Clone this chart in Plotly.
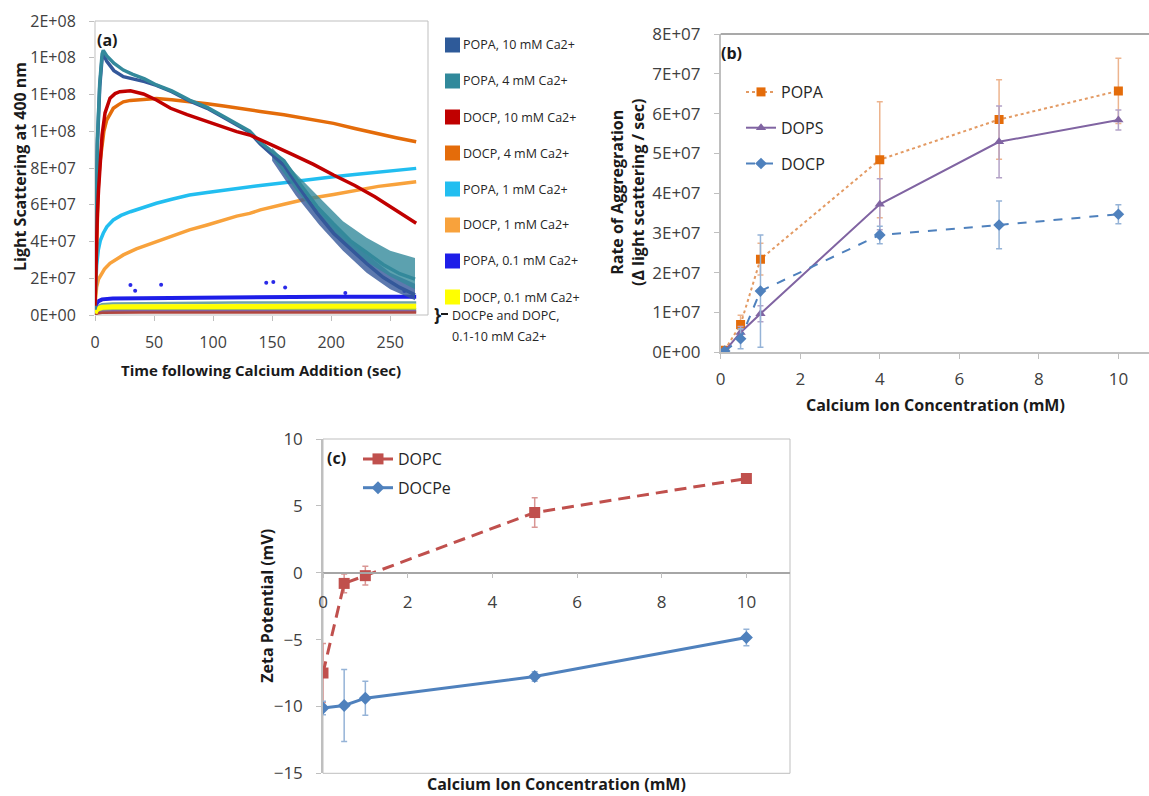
import plotly.graph_objects as go

W, H = 1149, 796
FONT = "Open Sans, Lato, sans-serif"

# ---------------- Panel (a): light scattering vs time (values in units of 1e7) ----------------
t_popa = [0, 1, 2, 4, 6, 7, 10, 16, 24, 32, 42, 52, 65, 80, 95, 109, 120, 131, 140, 150,
          160, 174, 188, 202, 216, 230, 244, 258, 271]
popa_4mM = [0.3, 6.3, 9.5, 12.6, 14.2, 14.4, 14.1, 13.7, 13.33, 13.1, 12.85, 12.52, 12.2, 11.7,
            11.3, 10.8, 10.4, 10.0, 9.4, 8.9, 8.4, 7.1, 5.9, 4.95, 4.05, 3.4, 2.75, 2.25, 1.95]
popa_10mM = [0.3, 6.0, 9.2, 12.4, 14.0, 14.2, 13.8, 13.3, 12.97, 12.85, 12.7, 12.5, 12.15, 11.65,
             11.25, 10.75, 10.35, 9.95, 9.3, 8.7, 8.15, 6.85, 5.55, 4.45, 3.6, 2.8, 2.05, 1.5, 1.1]

tail_t = [150, 170, 190, 210, 230, 250, 271]
popa_4mM_hi = [9.1, 7.7, 6.4, 5.1, 4.2, 3.5, 3.1]
popa_4mM_lo = [8.6, 6.8, 5.3, 3.9, 2.9, 2.1, 1.4]
popa_10mM_hi = [8.9, 7.1, 5.7, 4.4, 3.3, 2.3, 1.7]
popa_10mM_lo = [8.4, 6.5, 4.9, 3.5, 2.3, 1.4, 0.8]

t_docp10 = [0, 1, 2, 3, 4.2, 6, 8.5, 12.7, 17, 21, 30, 41, 52, 64, 78, 92, 106, 120, 131, 140,
            150, 167, 185, 202, 220, 237, 255, 272]
docp_10mM = [0.5, 3.5, 5.5, 6.8, 7.9, 9.8, 11.0, 11.8, 12.05, 12.15, 12.2, 12.03, 11.7, 11.25,
             10.9, 10.6, 10.3, 9.98, 9.8, 9.52, 9.25, 8.74, 8.2, 7.62, 7.05, 6.44, 5.7, 4.99]

t_docp4 = [0, 1, 2.8, 4, 5.6, 7.5, 9.9, 12.5, 15.5, 20, 24, 30, 38, 52, 65, 80, 95, 109, 120, 131,
           140, 160, 180, 202, 220, 240, 255, 272]
docp_4mM = [0.5, 3.0, 7.0, 8.2, 9.16, 10.0, 10.61, 10.95, 11.25, 11.45, 11.6, 11.68, 11.72, 11.78,
            11.72, 11.62, 11.5, 11.37, 11.25, 11.16, 11.08, 10.9, 10.68, 10.43, 10.15, 9.85, 9.65, 9.43]

t_popa1 = [0, 0.5, 1.4, 2.8, 4.5, 7, 10, 15.5, 22, 30, 40, 52, 65, 80, 95, 109, 120, 131, 140, 160,
           180, 202, 220, 240, 255, 272]
popa_1mM = [0.8, 1.6, 2.7, 3.54, 4.05, 4.45, 4.8, 5.17, 5.42, 5.62, 5.85, 6.08, 6.3, 6.53, 6.67,
            6.8, 6.9, 6.98, 7.05, 7.2, 7.37, 7.53, 7.65, 7.78, 7.88, 7.98]

t_docp1 = [0, 0.5, 1.4, 3, 5.6, 8, 12.7, 18, 24, 35, 52, 65, 80, 95, 109, 120, 131, 140, 160, 180,
           202, 220, 240, 255, 272]
docp_1mM = [0.5, 1.0, 1.54, 1.95, 2.27, 2.5, 2.81, 3.05, 3.27, 3.6, 3.99, 4.3, 4.63, 4.9, 5.17,
            5.38, 5.53, 5.72, 6.03, 6.33, 6.56, 6.78, 7.0, 7.12, 7.25]

t_low = [0, 1, 3, 6, 15, 40, 80, 120, 160, 200, 240, 272]
popa_01mM = [0.4, 0.6, 0.75, 0.85, 0.9, 0.92, 0.95, 0.97, 0.98, 1.0, 1.0, 1.0]
docp_01mM = [0.1, 0.25, 0.35, 0.42, 0.45, 0.46, 0.47, 0.47, 0.47, 0.47, 0.47, 0.47]
docpe_dopc_1 = [0.2, 0.4, 0.5, 0.58, 0.63, 0.65, 0.67, 0.68, 0.68, 0.68, 0.68, 0.68]
docpe_dopc_2 = [0.05, 0.15, 0.22, 0.27, 0.3, 0.31, 0.31, 0.31, 0.31, 0.31, 0.31, 0.31]
docpe_dopc_3 = [0.05, 0.1, 0.15, 0.18, 0.2, 0.21, 0.21, 0.21, 0.21, 0.21, 0.21, 0.21]
docpe_dopc_4 = [0.02, 0.06, 0.1, 0.12, 0.13, 0.14, 0.14, 0.14, 0.14, 0.14, 0.14, 0.14]

popa_01mM_out_t = [30, 34, 56, 145, 151, 161, 212, 262]
popa_01mM_out_v = [1.63, 1.32, 1.65, 1.76, 1.8, 1.49, 1.2, 1.3]

a_xticks = [0, 50, 100, 150, 200, 250]
a_yticks = [0, 2e7, 4e7, 6e7, 8e7, 1.0e8, 1.2e8, 1.4e8, 1.6e8]
a_yticktext = ["0E+00", "2E+07", "4E+07", "6E+07", "8E+07", "1E+08", "1E+08", "1E+08", "2E+08"]

a_legend_labels = ["POPA, 10 mM Ca2+", "POPA, 4 mM Ca2+", "DOCP, 10 mM Ca2+", "DOCP, 4 mM Ca2+",
                   "POPA, 1 mM Ca2+", "DOCP, 1 mM Ca2+", "POPA, 0.1 mM Ca2+", "DOCP, 0.1 mM Ca2+"]
a_legend_colors = ["#2E5A99", "#31899B", "#C00000", "#E46C0A", "#22BEF0", "#F8A23C", "#1E1EE8", "#FFFF00"]

# ---------------- Panel (b): rate of aggregation ----------------
conc_b = [0.1, 0.5, 1, 4, 7, 10]
popa_rate = [0.05, 0.70, 2.34, 4.84, 5.85, 6.57]   # x1e7
popa_err = [0.05, 0.23, 0.40, 1.46, 1.00, 0.82]
dops_rate = [0.03, 0.50, 0.97, 3.72, 5.29, 5.84]
dops_err = [0.03, 0.15, 0.20, 0.64, 0.90, 0.25]
docp_rate = [0.03, 0.34, 1.54, 2.95, 3.20, 3.47]
docp_err = [0.03, 0.25, 1.41, 0.22, 0.60, 0.24]
b_xticks = [0, 2, 4, 6, 8, 10]
b_yticks = [0, 1e7, 2e7, 3e7, 4e7, 5e7, 6e7, 7e7, 8e7]
b_yticktext = ["0E+00", "1E+07", "2E+07", "3E+07", "4E+07", "5E+07", "6E+07", "7E+07", "8E+07"]

# ---------------- Panel (c): zeta potential ----------------
conc_c = [0, 0.5, 1, 5, 10]
dopc_zeta = [-7.5, -0.8, -0.22, 4.5, 7.04]
dopc_err = [2.2, 0.7, 0.7, 1.1, 0.2]
docpe_zeta = [-10.12, -9.93, -9.38, -7.76, -4.85]
docpe_err = [0.5, 2.7, 1.27, 0.35, 0.62]
c_xticks = [0, 2, 4, 6, 8, 10]
c_yticks = [-15, -10, -5, 0, 5, 10]


def px(x):
    return x / W


def py(y):
    return 1 - y / H


def e7(v):
    return [x * 1e7 for x in v]


A_X, A_Y = [px(95), px(428)], [py(315), py(21)]
B_X, B_Y = [px(720.7), 1.0], [py(352.3), py(34)]
C_X, C_Y = [px(323), px(790)], [py(773.3), py(439)]
A_XR, A_YR = [0, 282], [0, 1.6e8]
B_XR, B_YR = [0, 10.77], [0, 8e7]
C_XR, C_YR = [0, 11.03], [-15, 10]

fig = go.Figure()

# ---- panel (a) traces ----
def a_line(t, v, color, width=3.5):
    fig.add_trace(go.Scatter(x=t, y=e7(v), mode="lines", line=dict(color=color, width=width),
                             xaxis="x", yaxis="y", showlegend=False, hoverinfo="skip"))


for v, c in zip([docpe_dopc_1, docpe_dopc_2, docpe_dopc_3, docpe_dopc_4],
                ["#6FA3A6", "#9BBB59", "#8064A2", "#B0463F"]):
    a_line(t_low, v, c, 2.5)
a_line(t_low, docp_01mM, "#FFFF00", 5)
a_line(t_low, popa_01mM, "#1E1EE8", 4)
fig.add_trace(go.Scatter(x=popa_01mM_out_t, y=e7(popa_01mM_out_v), mode="markers",
                         marker=dict(color="#2A2AE8", size=4), xaxis="x", yaxis="y",
                         showlegend=False, hoverinfo="skip"))
a_line(t_docp1, docp_1mM, "#F8A23C")
a_line(t_popa1, popa_1mM, "#22BEF0")
a_line(t_docp4, docp_4mM, "#E46C0A")
for hi, lo, c in [(popa_10mM_hi, popa_10mM_lo, "#34589A"), (popa_4mM_hi, popa_4mM_lo, "#33899B")]:
    fig.add_trace(go.Scatter(x=tail_t + tail_t[::-1], y=e7(hi + lo[::-1]), mode="lines",
                             fill="toself", fillcolor=c, line=dict(width=0, color=c), opacity=0.8,
                             xaxis="x", yaxis="y", showlegend=False, hoverinfo="skip"))
a_line(t_popa, popa_10mM, "#34589A")
a_line(t_popa, popa_4mM, "#33899B")
a_line(t_docp10, docp_10mM, "#C00000")

# ---- panel (b) traces ----
def b_trace(y, err, name, lcolor, mcolor, ecolor, symbol, dash, grp):
    fig.add_trace(go.Scatter(
        x=conc_b, y=e7(y), name=name, mode="lines+markers",
        line=dict(color=lcolor, width=2, dash=dash),
        marker=dict(symbol=symbol, size=9, color=mcolor),
        error_y=dict(type="data", array=e7(err), color=ecolor, thickness=1.5, width=3),
        xaxis="x2", yaxis="y2", legend="legend2", legendgroup=grp))


b_trace(popa_rate, popa_err, "POPA", "#E39A63", "#E46C0A", "#EDB48E", "square", "dot", "b1")
b_trace(dops_rate, dops_err, "DOPS", "#8064A2", "#8064A2", "#B3A2C7", "triangle-up", "solid", "b2")
b_trace(docp_rate, docp_err, "DOCP", "#4F81BD", "#4F81BD", "#95B3D7", "diamond", "dash", "b3")

# ---- panel (c) traces ----
fig.add_trace(go.Scatter(
    x=conc_c, y=dopc_zeta, name="DOPC", mode="lines+markers",
    line=dict(color="#C0504D", width=3, dash="12px,7px"),
    marker=dict(symbol="square", size=11, color="#C0504D"),
    error_y=dict(type="data", array=dopc_err, color="#D99694", thickness=1.5, width=3),
    xaxis="x3", yaxis="y3", legend="legend3", legendgroup="c1"))
fig.add_trace(go.Scatter(
    x=conc_c, y=docpe_zeta, name="DOCPe", mode="lines+markers",
    line=dict(color="#4F81BD", width=3),
    marker=dict(symbol="diamond", size=10, color="#4F81BD"),
    error_y=dict(type="data", array=docpe_err, color="#95B3D7", thickness=1.5, width=3),
    xaxis="x3", yaxis="y3", legend="legend3", legendgroup="c2"))

# ---- layout ----
tickfont = dict(family=FONT, size=16, color="#404040")
tickfont_bc = dict(family=FONT, size=17, color="#404040")
common = dict(showgrid=False, zeroline=False, ticks="outside", ticklen=5, tickcolor="#BFBFBF",
              automargin=False)

zero_pos = C_Y[0] + (0 - C_YR[0]) / (C_YR[1] - C_YR[0]) * (C_Y[1] - C_Y[0])

annotations = []


def ann(text, x, y, size, bold=False, angle=0, xanchor="center", color="#1a1a1a"):
    annotations.append(dict(text=f"<b>{text}</b>" if bold else text, x=px(x), y=py(y),
                            xref="paper", yref="paper", showarrow=False, textangle=angle,
                            font=dict(family=FONT, size=size, color=color),
                            xanchor=xanchor, yanchor="middle"))


# axis titles and panel labels
ann("Time following Calcium Addition (sec)", 261, 370, 15, bold=True)
ann("Light Scattering at 400 nm", 20, 167, 16, bold=True, angle=-90)
ann("(a)", 107, 40, 16, bold=True)
ann("Calcium Ion Concentration (mM)", 935, 405, 16, bold=True)
ann("Rate of Aggregration<br>(Δ light scattering / sec)", 627, 193, 16, bold=True, angle=-90)
ann("(b)", 731, 53, 16, bold=True)
ann("Calcium Ion Concentration (mM)", 556.5, 784, 16, bold=True)
ann("Zeta Potential (mV)", 266.7, 606, 16, bold=True, angle=-90)
ann("(c)", 336.7, 458.3, 16, bold=True)

shapes = [
    dict(type="rect", xref="x domain", yref="y domain", x0=0, x1=1, y0=0, y1=1,
         line=dict(color="#BFBFBF", width=1), layer="below"),
    dict(type="line", xref="x2 domain", yref="y2 domain", x0=0, x1=1, y0=1, y1=1,
         line=dict(color="#8C8C8C", width=1.5)),
    dict(type="rect", xref="x3 domain", yref="y3 domain", x0=0, x1=1, y0=0, y1=1,
         line=dict(color="#BFBFBF", width=1), layer="below"),
]

# manual legend for panel (a)
for i, (lab, col) in enumerate(zip(a_legend_labels, a_legend_colors)):
    yc = 45 + 36 * i
    shapes.append(dict(type="rect", xref="paper", yref="paper", x0=px(445), x1=px(460),
                       y0=py(yc + 7.5), y1=py(yc - 7.5), fillcolor=col, line=dict(width=0)))
    ann(lab, 461, yc, 12.5, xanchor="left", color="#262626")
ann("}", 437, 314, 18, bold=True)
shapes.append(dict(type="line", xref="paper", yref="paper", x0=px(441), x1=px(448),
                   y0=py(314), y1=py(314), line=dict(color="#1a1a1a", width=2)))
ann("DOCPe and DOPC,", 450, 315, 12.5, xanchor="left", color="#262626")
ann("0.1-10 mM Ca2+", 450, 336, 12.5, xanchor="left", color="#262626")

fig.update_layout(
    template="none",
    width=W, height=H, margin=dict(l=0, r=0, t=0, b=0),
    paper_bgcolor="white", plot_bgcolor="white",
    font=dict(family=FONT, color="#262626"),
    showlegend=True,
    xaxis=dict(domain=A_X, range=A_XR, anchor="y", tickvals=a_xticks, tickfont=tickfont,
               showline=False, ticklabelstandoff=8, **common),
    yaxis=dict(domain=A_Y, range=A_YR, anchor="x", tickvals=a_yticks, ticktext=a_yticktext,
               tickfont=tickfont, showline=False, ticklabelstandoff=10, **common),
    xaxis2=dict(domain=B_X, range=B_XR, anchor="y2", tickvals=b_xticks, tickfont=tickfont_bc,
                showline=True, linecolor="#BFBFBF", linewidth=1.5, ticklabelstandoff=6, **common),
    yaxis2=dict(domain=B_Y, range=B_YR, anchor="x2", tickvals=b_yticks, ticktext=b_yticktext,
                tickfont=tickfont_bc, showline=True, linecolor="#BFBFBF", linewidth=1.5,
                ticklabelstandoff=10, **common),
    xaxis3=dict(domain=C_X, range=C_XR, anchor="free", position=zero_pos, tickvals=c_xticks,
                tickfont=tickfont_bc, showline=True, linecolor="#A6A6A6", linewidth=1.5,
                ticklabelstandoff=9, **common),
    yaxis3=dict(domain=C_Y, range=C_YR, anchor="x3", tickvals=c_yticks, tickfont=tickfont_bc,
                showline=True, linecolor="#BFBFBF", linewidth=1.5, ticklabelstandoff=10, **common),
    legend2=dict(x=px(741), y=py(75), xanchor="left", yanchor="top", bgcolor="rgba(0,0,0,0)",
                 font=dict(family=FONT, size=16, color="#262626"), tracegroupgap=12,
                 traceorder="grouped"),
    legend3=dict(x=px(358), y=py(442), xanchor="left", yanchor="top", bgcolor="rgba(0,0,0,0)",
                 font=dict(family=FONT, size=16, color="#262626"), tracegroupgap=5,
                 traceorder="grouped"),
    annotations=annotations,
    shapes=shapes,
)

fig.write_html("out.html", config={"displayModeBar": False},
               post_script="document.body.style.margin='0';document.body.style.overflow='hidden';")
